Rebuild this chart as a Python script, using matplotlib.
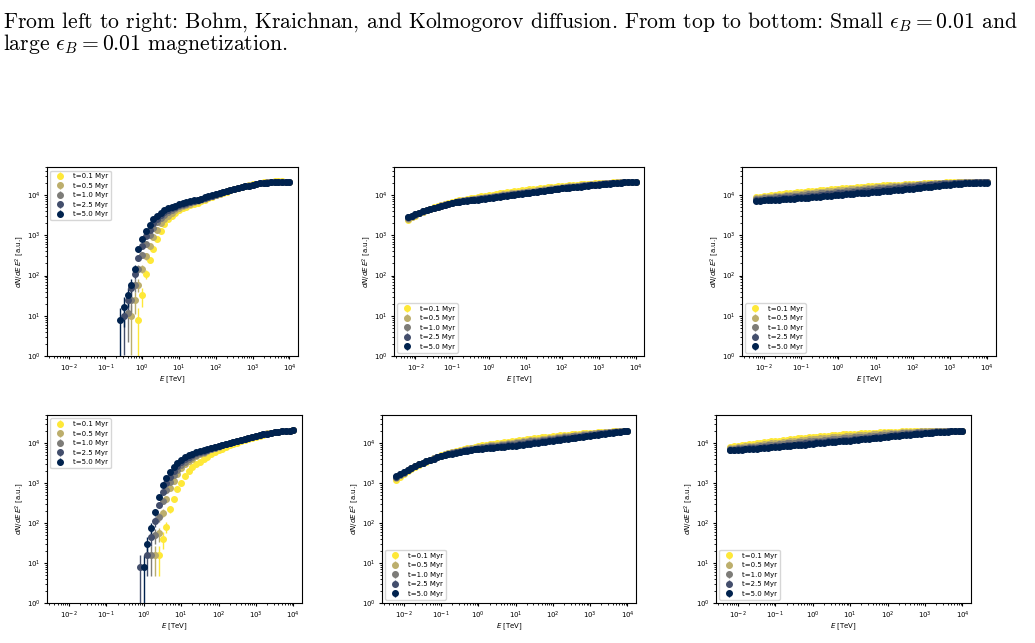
import matplotlib.pyplot as plt
import numpy as np
from matplotlib.ticker import NullFormatter

N = np.nan

# time labels of the snapshots
times = ['t=0.1 Myr', 't=0.5 Myr', 't=1.0 Myr', 't=2.5 Myr', 't=5.0 Myr']

# energy bins [TeV]
e_bohm = [0.25, 0.32, 0.40, 0.50, 0.63, 0.79, 1.0, 1.26, 1.58, 2.0, 2.5, 3.2, 4.0, 5.0, 6.3, 7.9, 10,
          12.6, 15.8, 20, 25, 32, 40, 50, 63, 79, 100,
          126, 158, 200, 250, 316, 400, 500, 630, 790, 1000,
          1260, 1580, 2000, 2500, 3160, 4000, 5000, 6300, 7900, 10000]
e_full = [0.0063, 0.0079,
          0.010, 0.0126, 0.0158, 0.020, 0.025, 0.032, 0.040, 0.050, 0.063, 0.079,
          0.10, 0.126, 0.158, 0.20, 0.25, 0.32, 0.40, 0.50, 0.63, 0.79,
          1.0, 1.26, 1.58, 2.0, 2.5, 3.2, 4.0, 5.0, 6.3, 7.9,
          10, 12.6, 15.8, 20, 25, 32, 40, 50, 63, 79,
          100, 126, 158, 200, 250, 316, 400, 500, 630, 790,
          1000, 1260, 1580, 2000, 2500, 3160, 4000, 5000, 6300, 7900,
          10000]

# Bohm, small magnetization  [a.u.]
bohm_small = [
    [N, N, N, N, N, 8, 33, 110, 250, 450, 800, 1250, 1900, 2500, 3100, 3700, 4300,
     4750, 5200, 5600, 6000, 6500, 7000, 7600, 8300, 9100, 10000,
     10700, 11500, 12300, 13200, 14100, 15000, 16000, 17000, 17700, 18500,
     19200, 20000, 20800, 21500, 21800, 22000, 22000, 22000, 21800, 21500],
    [N, N, N, 10, 25, 60, 150, 300, 550, 900, 1400, 2000, 2600, 3100, 3700, 4200, 4800,
     5300, 5800, 6200, 6600, 7100, 7600, 8200, 8800, 9500, 10200,
     10900, 11700, 12500, 13300, 14100, 15000, 15900, 16800, 17500, 18300,
     19000, 19800, 20400, 21000, 21300, 21500, 21500, 21500, 21300, 21200],
    [N, N, 12, 25, 60, 150, 330, 600, 1000, 1500, 2100, 2700, 3300, 3800, 4300, 4800, 5300,
     5750, 6200, 6600, 7000, 7450, 7900, 8450, 9000, 9650, 10300,
     11000, 11700, 12450, 13200, 14000, 14900, 15700, 16600, 17300, 18100,
     18800, 19600, 20200, 20800, 21000, 21300, 21350, 21400, 21250, 21100],
    [N, 10, 25, 50, 110, 280, 550, 950, 1400, 2000, 2600, 3200, 3800, 4300, 4800, 5200, 5700,
     6100, 6500, 6850, 7200, 7650, 8100, 8650, 9200, 9800, 10400,
     11000, 11700, 12450, 13200, 14000, 14800, 15650, 16500, 17250, 18000,
     18750, 19500, 20050, 20600, 20850, 21100, 21150, 21200, 21100, 21000],
    [8, 17, 33, 60, 150, 450, 800, 1300, 1800, 2500, 3000, 3600, 4200, 4700, 5100, 5500, 6000,
     6350, 6700, 7050, 7400, 7800, 8200, 8750, 9300, 9900, 10500,
     11150, 11800, 12500, 13200, 14000, 14800, 15650, 16500, 17250, 18000,
     18750, 19500, 20000, 20500, 20750, 21000, 21100, 21200, 21100, 21000],
]

# Bohm, large magnetization  [a.u.]
bohm_large = [
    [N, N, N, N, N, N, N, N, N, N, 16, 40, 80, 220, 400, 700, 1000,
     1500, 2000, 2450, 2900, 3400, 3900, 4550, 5200, 5850, 6500,
     7250, 8000, 8750, 9500, 10250, 11000, 11850, 12700, 13500, 14300,
     15150, 16000, 16800, 17600, 18300, 19000, 19500, 20000, 20250, 20500],
    [N, N, N, N, N, N, N, N, N, 16, 55, 180, 400, 750, 1150, 1700, 2300,
     2900, 3500, 4050, 4600, 5150, 5700, 6300, 6900, 7500, 8100,
     8750, 9400, 10050, 10700, 11400, 12100, 12850, 13600, 14350, 15100,
     15850, 16600, 17300, 18000, 18600, 19200, 19600, 20000, 20250, 20500],
    [N, N, N, N, N, N, N, N, 16, 50, 140, 350, 650, 1050, 1550, 2100, 2800,
     3400, 4000, 4550, 5100, 5550, 6000, 6550, 7100, 7650, 8200,
     8800, 9400, 10000, 10600, 11300, 12000, 12750, 13500, 14250, 15000,
     15750, 16500, 17200, 17900, 18500, 19100, 19550, 20000, 20250, 20500],
    [N, N, N, N, N, 8, N, 16, 45, 110, 280, 600, 1000, 1450, 2000, 2600, 3300,
     3900, 4500, 5000, 5500, 5900, 6300, 6800, 7300, 7850, 8400,
     8950, 9500, 10100, 10700, 11350, 12000, 12750, 13500, 14250, 15000,
     15750, 16500, 17150, 17800, 18400, 19000, 19500, 20000, 20250, 20500],
    [N, N, N, N, N, N, 8, 30, 75, 190, 450, 900, 1350, 1850, 2500, 3100, 3800,
     4400, 5000, 5450, 5900, 6250, 6600, 7050, 7500, 8000, 8500,
     9050, 9600, 10200, 10800, 11400, 12000, 12750, 13500, 14250, 15000,
     15750, 16500, 17150, 17800, 18400, 19000, 19500, 20000, 20250, 20500],
]

# Kraichnan, small magnetization  [10^3 a.u.]
kraich_small = [
    [2.4, 2.8, 3.1, 3.5, 3.9, 4.2, 4.6, 5.0, 5.3, 5.7,
     6.0, 6.3, 6.7, 7.1, 7.4, 7.7, 8.0, 8.4, 8.7, 9.0,
     9.3, 9.7, 10.0, 10.3, 10.7, 11.1, 11.4, 11.7, 12.1, 12.5,
     12.8, 13.1, 13.5, 13.9, 14.2, 14.5, 14.9, 15.3, 15.6, 15.9,
     16.3, 16.7, 17.0, 17.3, 17.6, 17.9, 18.2, 18.5, 18.8, 19.0,
     19.3, 19.6, 19.8, 20.0, 20.3, 20.6, 20.8, 21.0, 21.2, 21.3,
     21.4, 21.3, 21.2],
    [2.6, 2.9, 3.2, 3.6, 3.9, 4.2, 4.6, 4.9, 5.2, 5.6,
     5.9, 6.2, 6.5, 6.8, 7.1, 7.4, 7.7, 7.9, 8.2, 8.5,
     8.7, 9.0, 9.2, 9.5, 9.8, 10.1, 10.4, 10.7, 11.0, 11.3,
     11.6, 12.0, 12.3, 12.6, 13.0, 13.3, 13.7, 14.0, 14.4, 14.8,
     15.1, 15.5, 15.9, 16.2, 16.6, 17.0, 17.3, 17.6, 18.0, 18.3,
     18.7, 19.0, 19.3, 19.6, 19.9, 20.2, 20.5, 20.7, 20.9, 21.0,
     21.1, 21.1, 21.0],
    [2.7, 3.0, 3.3, 3.7, 4.0, 4.3, 4.6, 4.9, 5.2, 5.5,
     5.8, 6.1, 6.4, 6.7, 7.0, 7.3, 7.5, 7.7, 7.9, 8.2,
     8.4, 8.6, 8.8, 9.0, 9.3, 9.6, 9.9, 10.1, 10.4, 10.7,
     11.0, 11.4, 11.7, 12.0, 12.3, 12.7, 13.0, 13.3, 13.7, 14.1,
     14.5, 14.9, 15.3, 15.6, 16.0, 16.3, 16.7, 17.0, 17.4, 17.7,
     18.1, 18.4, 18.8, 19.1, 19.5, 19.8, 20.2, 20.5, 20.7, 20.9,
     21.0, 21.0, 20.9],
    [2.8, 3.1, 3.4, 3.7, 4.0, 4.3, 4.6, 4.9, 5.2, 5.5,
     5.8, 6.1, 6.4, 6.6, 6.9, 7.2, 7.4, 7.6, 7.8, 8.0,
     8.2, 8.4, 8.6, 8.9, 9.1, 9.4, 9.6, 9.9, 10.2, 10.4,
     10.7, 11.0, 11.3, 11.6, 11.9, 12.2, 12.6, 12.9, 13.3, 13.7,
     14.1, 14.5, 14.9, 15.2, 15.6, 16.0, 16.4, 16.7, 17.1, 17.4,
     17.8, 18.1, 18.5, 18.8, 19.2, 19.6, 20.0, 20.3, 20.6, 20.8,
     20.9, 20.9, 20.9],
    [2.9, 3.1, 3.4, 3.7, 4.0, 4.3, 4.6, 4.9, 5.2, 5.5,
     5.8, 6.1, 6.4, 6.6, 6.9, 7.1, 7.3, 7.5, 7.7, 7.8,
     8.0, 8.2, 8.4, 8.6, 8.9, 9.1, 9.4, 9.6, 9.9, 10.2,
     10.5, 10.8, 11.1, 11.4, 11.7, 12.0, 12.4, 12.7, 13.1, 13.5,
     13.9, 14.3, 14.7, 15.0, 15.4, 15.7, 16.1, 16.4, 16.8, 17.1,
     17.5, 17.8, 18.2, 18.6, 19.0, 19.4, 19.8, 20.2, 20.5, 20.7,
     20.9, 21.0, 21.0],
]

# Kraichnan, large magnetization  [10^3 a.u.]
kraich_large = [
    [1.2, 1.45, 1.7, 1.95, 2.2, 2.5, 2.8, 3.1, 3.4, 3.75,
     4.1, 4.5, 4.9, 5.2, 5.6, 5.9, 6.3, 6.6, 7.0, 7.3,
     7.7, 8.0, 8.4, 8.7, 9.0, 9.3, 9.6, 9.9, 10.2, 10.5,
     10.8, 11.1, 11.4, 11.7, 12.1, 12.4, 12.8, 13.1, 13.5, 13.8,
     14.2, 14.5, 14.9, 15.2, 15.5, 15.8, 16.1, 16.4, 16.7, 17.0,
     17.3, 17.6, 17.9, 18.2, 18.5, 18.7, 19.0, 19.2, 19.5, 19.7,
     19.9, 20.0, 20.1],
    [1.3, 1.55, 1.8, 2.05, 2.3, 2.6, 2.9, 3.2, 3.5, 3.8,
     4.1, 4.45, 4.8, 5.15, 5.5, 5.8, 6.1, 6.4, 6.7, 7.0,
     7.3, 7.6, 7.9, 8.15, 8.4, 8.65, 8.9, 9.15, 9.4, 9.65,
     9.9, 10.1, 10.4, 10.7, 11.0, 11.3, 11.6, 11.9, 12.2, 12.5,
     12.9, 13.2, 13.6, 13.9, 14.3, 14.6, 15.0, 15.3, 15.7, 16.0,
     16.4, 16.7, 17.1, 17.4, 17.8, 18.1, 18.5, 18.8, 19.1, 19.4,
     19.7, 19.9, 20.0],
    [1.4, 1.6, 1.8, 2.05, 2.3, 2.6, 2.9, 3.2, 3.5, 3.8,
     4.1, 4.45, 4.8, 5.1, 5.4, 5.65, 5.9, 6.2, 6.5, 6.75,
     7.0, 7.25, 7.5, 7.75, 8.0, 8.2, 8.4, 8.6, 8.8, 9.05,
     9.3, 9.55, 9.8, 10.05, 10.3, 10.6, 10.9, 11.2, 11.5, 11.8,
     12.1, 12.45, 12.8, 13.15, 13.5, 13.85, 14.2, 14.55, 14.9, 15.3,
     15.7, 16.1, 16.5, 16.9, 17.3, 17.7, 18.1, 18.5, 18.9, 19.2,
     19.5, 19.8, 20.0],
    [1.4, 1.65, 1.9, 2.15, 2.4, 2.65, 2.9, 3.2, 3.5, 3.75,
     4.0, 4.35, 4.7, 5.0, 5.3, 5.55, 5.8, 6.05, 6.3, 6.55,
     6.8, 7.0, 7.2, 7.4, 7.6, 7.75, 7.9, 8.1, 8.3, 8.5,
     8.7, 8.9, 9.1, 9.35, 9.6, 9.85, 10.1, 10.4, 10.7, 11.0,
     11.3, 11.6, 11.9, 12.25, 12.6, 12.95, 13.3, 13.65, 14.0, 14.4,
     14.8, 15.2, 15.6, 16.05, 16.5, 16.95, 17.4, 17.9, 18.4, 18.85,
     19.3, 19.7, 20.0],
    [1.5, 1.7, 1.9, 2.15, 2.4, 2.65, 2.9, 3.2, 3.5, 3.75,
     4.0, 4.35, 4.7, 4.95, 5.2, 5.45, 5.7, 5.95, 6.2, 6.45,
     6.7, 6.9, 7.1, 7.25, 7.4, 7.55, 7.7, 7.85, 8.0, 8.15,
     8.3, 8.45, 8.6, 8.85, 9.1, 9.35, 9.6, 9.85, 10.1, 10.4,
     10.7, 11.05, 11.4, 11.75, 12.1, 12.45, 12.8, 13.15, 13.5, 13.9,
     14.3, 14.7, 15.1, 15.55, 16.0, 16.5, 17.0, 17.55, 18.1, 18.65,
     19.2, 19.6, 20.0],
]

# Kolmogorov, small magnetization  [10^3 a.u.]
kolmo_small = [
    [9.0, 9.25, 9.5, 9.75, 10.0, 10.25, 10.5, 10.75, 11.0, 11.25,
     11.5, 11.75, 12.0, 12.25, 12.5, 12.75, 13.0, 13.25, 13.5, 13.75,
     14.0, 14.25, 14.5, 14.75, 15.0, 15.25, 15.5, 15.75, 16.0, 16.25,
     16.5, 16.75, 17.0, 17.2, 17.4, 17.6, 17.8, 18.0, 18.2, 18.4,
     18.6, 18.8, 19.0, 19.2, 19.4, 19.6, 19.8, 20.0, 20.2, 20.35,
     20.5, 20.65, 20.8, 20.9, 21.0, 21.1, 21.2, 21.25, 21.3, 21.3,
     21.3, 21.25, 21.2],
    [8.4, 8.6, 8.8, 9.0, 9.2, 9.4, 9.6, 9.8, 10.0, 10.2,
     10.4, 10.6, 10.8, 11.05, 11.3, 11.5, 11.7, 11.9, 12.1, 12.35,
     12.6, 12.85, 13.1, 13.35, 13.6, 13.85, 14.1, 14.35, 14.6, 14.85,
     15.1, 15.35, 15.6, 15.85, 16.1, 16.35, 16.6, 16.85, 17.1, 17.35,
     17.6, 17.85, 18.1, 18.35, 18.6, 18.85, 19.1, 19.35, 19.6, 19.8,
     20.0, 20.2, 20.4, 20.55, 20.7, 20.85, 21.0, 21.05, 21.1, 21.1,
     21.1, 21.05, 21.0],
    [8.0, 8.15, 8.3, 8.45, 8.6, 8.8, 9.0, 9.15, 9.3, 9.45,
     9.6, 9.8, 10.0, 10.2, 10.4, 10.6, 10.8, 11.0, 11.2, 11.4,
     11.6, 11.85, 12.1, 12.3, 12.5, 12.75, 13.0, 13.25, 13.5, 13.75,
     14.0, 14.25, 14.5, 14.75, 15.0, 15.25, 15.5, 15.75, 16.0, 16.3,
     16.6, 16.9, 17.2, 17.5, 17.8, 18.1, 18.4, 18.7, 19.0, 19.25,
     19.5, 19.75, 20.0, 20.2, 20.4, 20.55, 20.7, 20.8, 20.9, 20.9,
     20.9, 20.85, 20.8],
    [7.6, 7.7, 7.8, 7.95, 8.1, 8.2, 8.3, 8.45, 8.6, 8.7,
     8.8, 8.95, 9.1, 9.25, 9.4, 9.6, 9.8, 10.0, 10.2, 10.4,
     10.6, 10.8, 11.0, 11.2, 11.4, 11.6, 11.8, 12.05, 12.3, 12.55,
     12.8, 13.05, 13.3, 13.55, 13.8, 14.05, 14.3, 14.55, 14.8, 15.1,
     15.4, 15.7, 16.0, 16.35, 16.7, 17.05, 17.4, 17.75, 18.1, 18.45,
     18.8, 19.1, 19.4, 19.65, 19.9, 20.1, 20.3, 20.45, 20.6, 20.65,
     20.7, 20.7, 20.7],
    [7.3, 7.35, 7.4, 7.5, 7.6, 7.7, 7.8, 7.9, 8.0, 8.1,
     8.2, 8.3, 8.4, 8.55, 8.7, 8.85, 9.0, 9.15, 9.3, 9.5,
     9.7, 9.85, 10.0, 10.2, 10.4, 10.6, 10.8, 11.0, 11.2, 11.4,
     11.6, 11.8, 12.0, 12.25, 12.5, 12.75, 13.0, 13.25, 13.5, 13.75,
     14.0, 14.3, 14.6, 14.95, 15.3, 15.65, 16.0, 16.4, 16.8, 17.2,
     17.6, 18.0, 18.4, 18.75, 19.1, 19.4, 19.7, 19.95, 20.2, 20.35,
     20.5, 20.55, 20.6],
]

# Kolmogorov, large magnetization  [10^3 a.u.]
kolmo_large = [
    [8.0, 8.25, 8.5, 8.75, 9.0, 9.25, 9.5, 9.75, 10.0, 10.3,
     10.6, 10.9, 11.2, 11.5, 11.8, 12.1, 12.4, 12.7, 13.0, 13.3,
     13.6, 13.9, 14.2, 14.5, 14.8, 15.05, 15.3, 15.55, 15.8, 16.05,
     16.3, 16.55, 16.8, 17.0, 17.2, 17.4, 17.6, 17.8, 18.0, 18.2,
     18.4, 18.6, 18.8, 18.95, 19.1, 19.25, 19.4, 19.55, 19.7, 19.8,
     19.9, 20.0, 20.1, 20.15, 20.2, 20.25, 20.3, 20.3, 20.3, 20.3,
     20.3, 20.25, 20.2],
    [7.4, 7.6, 7.8, 8.0, 8.2, 8.4, 8.6, 8.8, 9.0, 9.25,
     9.5, 9.75, 10.0, 10.25, 10.5, 10.75, 11.0, 11.25, 11.5, 11.75,
     12.0, 12.25, 12.5, 12.75, 13.0, 13.25, 13.5, 13.75, 14.0, 14.25,
     14.5, 14.75, 15.0, 15.25, 15.5, 15.75, 16.0, 16.25, 16.5, 16.75,
     17.0, 17.25, 17.5, 17.75, 18.0, 18.2, 18.4, 18.6, 18.8, 19.0,
     19.2, 19.35, 19.5, 19.65, 19.8, 19.9, 20.0, 20.05, 20.1, 20.15,
     20.2, 20.15, 20.1],
    [7.0, 7.15, 7.3, 7.45, 7.6, 7.8, 8.0, 8.15, 8.3, 8.5,
     8.7, 8.9, 9.1, 9.3, 9.5, 9.7, 9.9, 10.1, 10.3, 10.5,
     10.7, 10.9, 11.1, 11.3, 11.5, 11.75, 12.0, 12.25, 12.5, 12.75,
     13.0, 13.25, 13.5, 13.75, 14.0, 14.25, 14.5, 14.75, 15.0, 15.3,
     15.6, 15.9, 16.2, 16.5, 16.8, 17.05, 17.3, 17.55, 17.8, 18.05,
     18.3, 18.55, 18.8, 19.0, 19.2, 19.4, 19.6, 19.75, 19.9, 19.95,
     20.0, 20.0, 20.0],
    [6.7, 6.8, 6.9, 7.05, 7.2, 7.3, 7.4, 7.55, 7.7, 7.85,
     8.0, 8.15, 8.3, 8.45, 8.6, 8.75, 8.9, 9.1, 9.3, 9.5,
     9.7, 9.9, 10.1, 10.3, 10.5, 10.7, 10.9, 11.1, 11.3, 11.5,
     11.7, 11.9, 12.1, 12.35, 12.6, 12.85, 13.1, 13.35, 13.6, 13.9,
     14.2, 14.5, 14.8, 15.1, 15.4, 15.7, 16.0, 16.3, 16.6, 16.95,
     17.3, 17.6, 17.9, 18.2, 18.5, 18.75, 19.0, 19.25, 19.5, 19.65,
     19.8, 19.9, 20.0],
    [6.5, 6.6, 6.7, 6.8, 6.9, 7.0, 7.1, 7.2, 7.3, 7.45,
     7.6, 7.75, 7.9, 8.05, 8.2, 8.35, 8.5, 8.65, 8.8, 8.95,
     9.1, 9.3, 9.5, 9.7, 9.9, 10.1, 10.3, 10.5, 10.7, 10.9,
     11.1, 11.3, 11.5, 11.75, 12.0, 12.25, 12.5, 12.75, 13.0, 13.3,
     13.6, 13.95, 14.3, 14.6, 14.9, 15.2, 15.5, 15.8, 16.1, 16.45,
     16.8, 17.15, 17.5, 17.8, 18.1, 18.4, 18.7, 19.0, 19.3, 19.55,
     19.8, 19.9, 20.0],
]

count_unit = 8.0  # value of one particle in a.u. (Poisson errors)
colors = plt.cm.cividis(np.linspace(1, 0, 5))

# (data, energies, scale of stored numbers, axes rect, legend location)
panels = [
    (bohm_small, e_bohm, 1.0, [0.0454, 0.4463, 0.2425, 0.2939], 'upper left'),
    (kraich_small, e_full, 1e3, [0.3807, 0.4463, 0.2415, 0.2939], 'lower left'),
    (kolmo_small, e_full, 1e3, [0.7169, 0.4463, 0.2454, 0.2939], 'lower left'),
    (bohm_large, e_bohm, 1.0, [0.0454, 0.0622, 0.2464, 0.2924], 'upper left'),
    (kraich_large, e_full, 1e3, [0.3691, 0.0622, 0.2454, 0.2924], 'lower left'),
    (kolmo_large, e_full, 1e3, [0.6918, 0.0622, 0.2464, 0.2924], 'lower left'),
]

fig = plt.figure(figsize=(10.35, 6.43), dpi=100)

for data, energies, scale, pos, loc in panels:
    ax = fig.add_axes(pos)
    for i, series in enumerate(data):
        y = np.array(series, dtype=float) * scale
        ax.errorbar(energies, y, yerr=np.sqrt(y * count_unit), fmt='o', ms=4,
                    color=colors[i], elinewidth=1, label=times[i])
    ax.set_xscale('log')
    ax.set_yscale('log')
    ax.set_xlim(2.6e-3, 1.7e4)
    ax.set_ylim(1, 5e4)
    ax.xaxis.set_minor_formatter(NullFormatter())
    ax.yaxis.set_minor_formatter(NullFormatter())
    ax.set_xlabel(r'$E$ [TeV]', fontsize=5, labelpad=1)
    ax.set_ylabel(r'$dN/dE\,E^2$ [a.u.]', fontsize=5, labelpad=1)
    ax.tick_params(labelsize=5, length=2.5, pad=2)
    ax.tick_params(which='minor', length=1.5)
    ax.legend(loc=loc, fontsize=5)

caption1 = (r'From left to right: Bohm, Kraichnan, and Kolmogorov diffusion. '
            r'From top to bottom: Small $\epsilon_B = 0.01$ and')
caption2 = r'large $\epsilon_B = 0.01$ magnetization.'
for text, y in [(caption1, 28), (caption2, 50)]:
    fig.text(0.003, 1 - y / 643, text, fontname='cmr10', math_fontfamily='cm',
             fontsize=15.6, va='baseline')

fig.savefig('out.png', dpi=100)
